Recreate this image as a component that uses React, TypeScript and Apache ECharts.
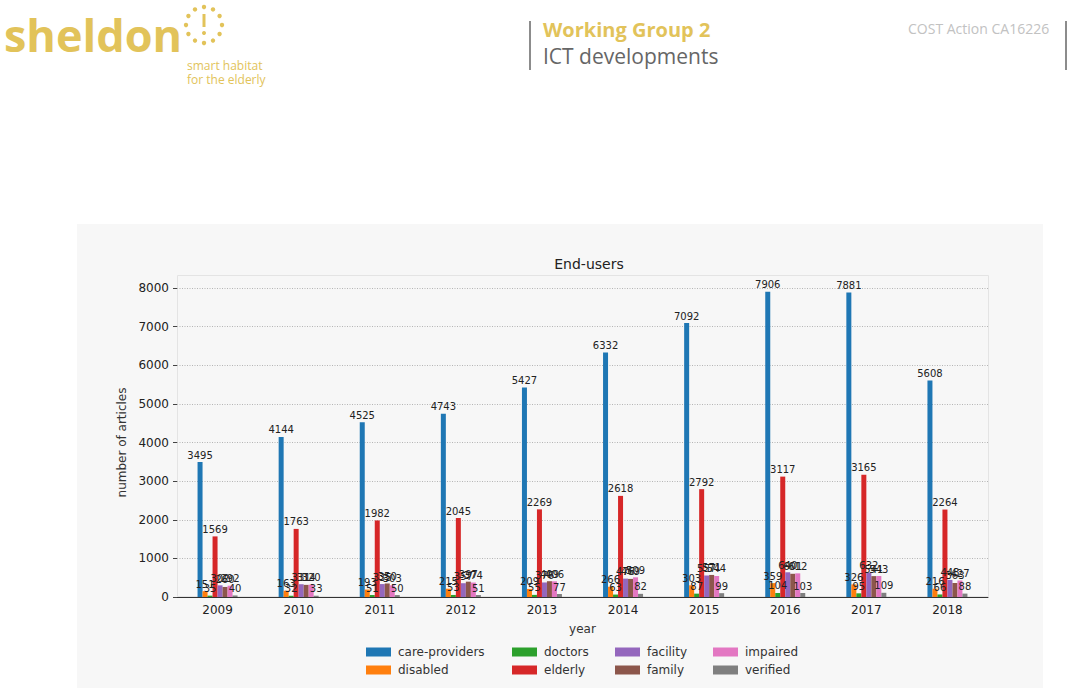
import React, { useEffect, useRef } from "react";
import * as echarts from "echarts";

const years = ["2009", "2010", "2011", "2012", "2013", "2014", "2015", "2016", "2017", "2018"];
const seriesNames = ["care-providers", "disabled", "doctors", "elderly", "facility", "family", "impaired", "verified"];
const careProviders = [3495, 4144, 4525, 4743, 5427, 6332, 7092, 7906, 7881, 5608];
const disabled = [151, 163, 193, 215, 209, 266, 303, 359, 326, 216];
const doctors = [35, 32, 51, 53, 55, 63, 87, 104, 95, 66];
const elderly = [1569, 1763, 1982, 2045, 2269, 2618, 2792, 3117, 3165, 2264];
const facility = [302, 331, 335, 357, 376, 476, 557, 640, 632, 443];
const family = [260, 314, 350, 397, 409, 469, 571, 601, 541, 363];
const impaired = [292, 320, 303, 374, 406, 509, 544, 612, 543, 427];
const verified = [40, 33, 50, 51, 77, 82, 99, 103, 109, 88];
const yTicks = [0, 1000, 2000, 3000, 4000, 5000, 6000, 7000, 8000];

const palette = ["#1f77b4", "#ff7f0e", "#2ca02c", "#d62728", "#9467bd", "#8c564b", "#e377c2", "#7f7f7f"];
const gold = "#e2c35a";
const mplFont = "DejaVu Sans";

export default function App() {
  const ref = useRef<HTMLDivElement>(null);

  useEffect(() => {
    if (!ref.current) return;
    const chart = echarts.init(ref.current, undefined, { renderer: "svg" });
    const values = [careProviders, disabled, doctors, elderly, facility, family, impaired, verified];

    // ring of dots around the "!" in the logo
    const dots: any[] = [];
    const cx = 204, cy = 25, r = 18;
    for (let i = 0; i < 12; i++) {
      const a = (i / 12) * Math.PI * 2;
      dots.push({
        type: "circle",
        shape: { cx: cx + r * Math.sin(a), cy: cy - r * Math.cos(a), r: 2.2 },
        style: { fill: gold },
      });
    }

    const legendCols = [
      { left: 361, data: ["care-providers", "disabled"] },
      { left: 507, data: ["doctors", "elderly"] },
      { left: 610, data: ["facility", "family"] },
      { left: 708, data: ["impaired", "verified"] },
    ];

    chart.setOption({
      animation: false,
      backgroundColor: "#ffffff",
      color: palette,
      title: {
        text: "End-users",
        left: 584,
        top: 252,
        textAlign: "center",
        textStyle: { fontFamily: mplFont, fontSize: 14, fontWeight: "normal", color: "#222" },
      },
      legend: legendCols.map((c) => ({
        orient: "vertical",
        left: c.left,
        top: 641,
        itemWidth: 25,
        itemHeight: 9,
        itemGap: 6,
        icon: "rect",
        data: c.data,
        textStyle: { fontFamily: mplFont, fontSize: 12, color: "#333", padding: [0, 0, 0, 2] },
      })),
      grid: { left: 177, right: 85, top: 288, bottom: 91 },
      xAxis: {
        type: "category",
        data: years,
        name: "year",
        nameLocation: "middle",
        nameGap: 26,
        nameTextStyle: { fontFamily: mplFont, fontSize: 12, color: "#333" },
        axisLine: { lineStyle: { color: "#333", width: 1 } },
        axisTick: { alignWithLabel: true, length: 4, lineStyle: { color: "#444" } },
        axisLabel: { fontFamily: mplFont, fontSize: 12, color: "#222", margin: 7 },
      },
      yAxis: {
        type: "value",
        min: 0,
        max: yTicks[yTicks.length - 1],
        interval: 1000,
        name: "number of articles",
        nameLocation: "middle",
        nameGap: 35,
        nameTextStyle: { fontFamily: mplFont, fontSize: 12, color: "#333" },
        axisLine: { show: false },
        axisTick: { show: true, length: 4, lineStyle: { color: "#444" } },
        axisLabel: {
          fontFamily: mplFont,
          fontSize: 12,
          color: "#222",
          margin: 8,
          formatter: (v: number) => String(v),
        },
        splitLine: { lineStyle: { color: "#b5b5b5", type: [1, 1.5], width: 1 } },
      },
      series: seriesNames.map((name, i) => ({
        name,
        type: "bar",
        data: values[i],
        barWidth: 5,
        barGap: "0%",
        label: {
          show: true,
          position: "top",
          distance: 2,
          fontFamily: mplFont,
          fontSize: 10,
          color: "#222",
        },
      })),
      graphic: [
        // chart panel
        {
          type: "rect",
          z: -10,
          shape: { x: 77, y: 224, width: 966, height: 470 },
          style: { fill: "#f7f7f7" },
        },
        // axes frame
        {
          type: "rect",
          z: -5,
          shape: { x: 177.5, y: 275.5, width: 811, height: 321 },
          style: { fill: "none", stroke: "#e4e4e4", lineWidth: 1 },
        },
        // header
        {
          type: "text",
          left: 4,
          top: 12,
          style: { text: "sheldon", fontFamily: "Open Sans", fontWeight: "bold", fontSize: 45, fill: gold },
        },
        ...dots,
        { type: "rect", shape: { x: 202.5, y: 14, width: 3, height: 13 }, style: { fill: gold } },
        { type: "circle", shape: { cx: 204, cy: 33, r: 2 }, style: { fill: gold } },
        {
          type: "text",
          left: 187,
          top: 58,
          style: { text: "smart habitat\nfor the elderly", fontFamily: "Open Sans", fontSize: 12, lineHeight: 14, fill: gold },
        },
        { type: "line", shape: { x1: 530, y1: 21, x2: 530, y2: 70 }, style: { stroke: "#666", lineWidth: 1.5 } },
        {
          type: "text",
          left: 543,
          top: 19,
          style: { text: "Working Group 2", fontFamily: "Open Sans", fontWeight: "bold", fontSize: 20, fill: gold },
        },
        {
          type: "text",
          left: 543,
          top: 45,
          style: { text: "ICT developments", fontFamily: "Open Sans", fontSize: 21, fill: "#666" },
        },
        {
          type: "text",
          left: 908,
          top: 21,
          style: { text: "COST Action CA16226", fontFamily: "Open Sans", fontSize: 14, fill: "#c2c2c2" },
        },
        { type: "line", shape: { x1: 1066, y1: 21, x2: 1066, y2: 70 }, style: { stroke: "#666", lineWidth: 1.5 } },
      ],
    });

    return () => chart.dispose();
  }, []);

  return (
    <div
      ref={ref}
      style={{ position: "fixed", left: 0, top: 0, width: 1073, height: 688 }}
    />
  );
}
